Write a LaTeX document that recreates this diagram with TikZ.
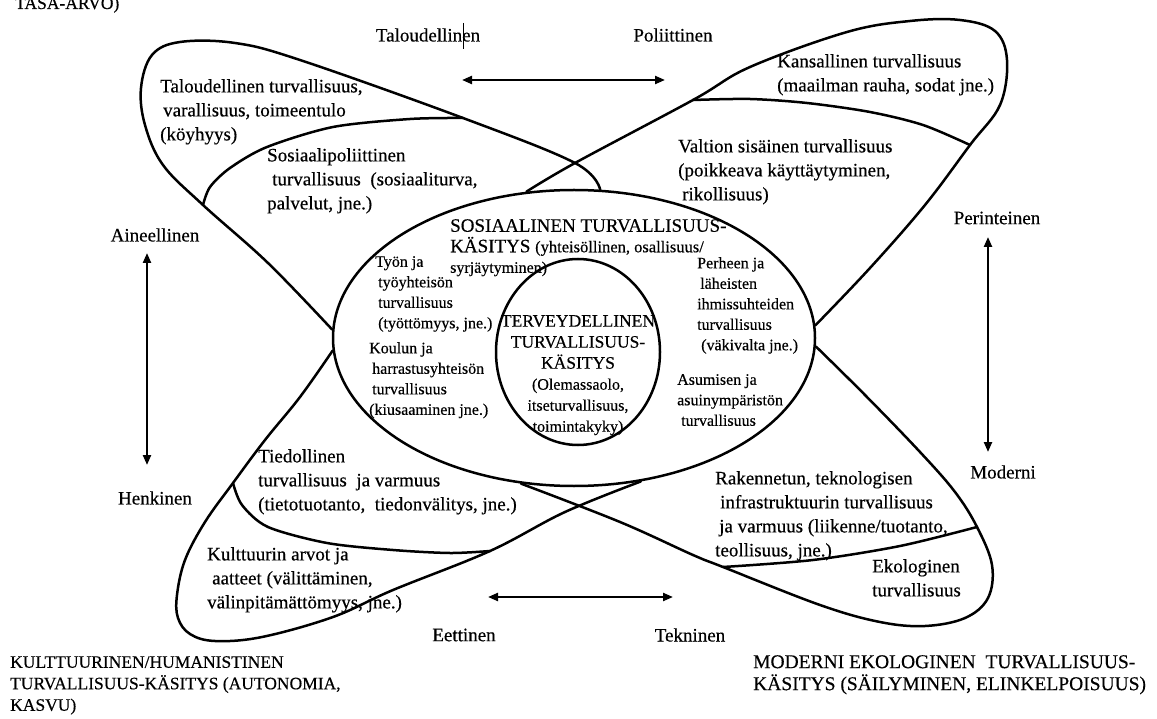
\documentclass[tikz,border=0pt]{standalone}
\usepackage{fontspec}
\setmainfont{Liberation Serif}[FakeBold=0.4]
\usetikzlibrary{arrows.meta,shapes.geometric}
\begin{document}
\begin{tikzpicture}[x=1pt,y=-1pt,
  curve/.style={line width=2.5pt,line join=round,line cap=round},
  outer/.style={font=\fontsize{19}{24}\selectfont,inner sep=0pt,anchor=north west,align=left},
  inner/.style={font=\fontsize{16}{20.5}\selectfont,inner sep=0pt,anchor=north west,align=left},
  botlab/.style={font=\fontsize{17.5}{21.5}\selectfont,inner sep=0pt,anchor=north west,align=left},
  axis/.style={line width=2.2pt,{Triangle[length=10pt,width=8pt]}-{Triangle[length=10pt,width=8pt]}},
  axlab/.style={font=\fontsize{19}{24}\selectfont,inner sep=0pt}
]
\useasboundingbox (0,0) rectangle (1157,719);
\fill[white] (0,0) rectangle (1157,719);

% central shapes
\node[draw,ellipse,line width=2.5pt,minimum width=482pt,minimum height=296pt,inner sep=0pt] (soc) at (574,338) {};
\node[draw,ellipse,line width=2.5pt,minimum width=164pt,minimum height=186pt,inner sep=0pt] (health) at (578,352) {};

% top-left petal
\coordinate (tlA) at (203,205);
\coordinate (tlB) at (463,118);
\draw[curve] plot[smooth,tension=0.6] coordinates {(soc.178) (268,263) (tlA) (163,165) (145,125) (141,88) (152,55) (180,42) (235,43) (300,60) (tlB) (575,163) (soc.80)};
\draw[curve] plot[smooth] coordinates {(tlA) (210,187) (230,168) (267,147) (333,127) (410,119) (tlB)};

% top-right petal
\coordinate (trA) at (693,100);
\coordinate (trB) at (970,145);
\draw[curve] plot[smooth,tension=0.6] coordinates {(soc.108) (575,163) (trA) (750,67) (847,32) (910,21) (960,20) (995,31) (1007,60) (1000,105) (trB) (925,205) (870,268) (soc.3)};
\draw[curve] plot[smooth] coordinates {(trA) (750,99) (807,103) (870,112) (923,125) (trB)};

% bottom-right petal
\coordinate (brA) at (723,567);
\coordinate (brB) at (977,527);
\draw[curve] plot[smooth,tension=0.6] coordinates {(soc.-2) (865,395) (920,452) (955,492) (brB) (992,565) (988,598) (965,618) (925,626) (880,622) (820,605) (brA) (693,555) (620,522) (soc.-110)};
\draw[curve] plot[smooth] coordinates {(brA) (813,560) (900,546) (brB)};

% bottom-left petal
\coordinate (blA) at (233,483);
\coordinate (blB) at (490,551);
\draw[curve] plot[smooth,tension=0.6] coordinates {(soc.183) (300,397) (265,440) (blA) (205,522) (185,560) (177,595) (178,618) (190,634) (215,641) (262,637) (333,617) (393,590) (blB) (565,512) (soc.-65)};
\draw[curve] plot[smooth] coordinates {(blA) (242,505) (268,527) (327,543) (393,550) (450,553) (blB)};

% axes
\coordinate (tx1) at (462,80); \coordinate (tx2) at (665,80);
\coordinate (bx1) at (488,597); \coordinate (bx2) at (673,597);
\coordinate (ly1) at (147,253); \coordinate (ly2) at (147,465);
\coordinate (ry1) at (988,237); \coordinate (ry2) at (988,452);
\draw[axis] (tx1) -- (tx2);
\draw[axis] (bx1) -- (bx2);
\draw[axis] (ly1) -- (ly2);
\draw[axis] (ry1) -- (ry2);

\node[axlab] (tal) at (428,35) {Taloudellinen};
\node[axlab] (pol) at (673,35) {Poliittinen};
\node[axlab] (ain) at (155,235) {Aineellinen};
\node[axlab] (hen) at (155,498) {Henkinen};
\node[axlab] (per) at (997,218) {Perinteinen};
\node[axlab] (mod) at (1003,472) {Moderni};
\node[axlab] (eet) at (464,635) {Eettinen};
\node[axlab] (tek) at (690,635) {Tekninen};
\coordinate (cur1) at (463,23); \coordinate (cur2) at (463,49);
\draw[line width=1pt] (cur1) -- (cur2);

% petal texts
\node[outer] (t1) at (160,79) {Taloudellinen turvallisuus,\\\hspace{3pt}varallisuus, toimeentulo\\(köyhyys)};
\node[outer] (t2) at (267,148) {Sosiaalipoliittinen\\\hspace{5pt}turvallisuus\ \ (sosiaaliturva,\\palvelut, jne.)};
\node[outer] (t3) at (777,54) {Kansallinen turvallisuus\\(maailman rauha, sodat jne.)};
\node[outer] (t4) at (678,139) {Valtion sisäinen turvallisuus\\(poikkeava käyttäytyminen,\\\hspace{4pt}rikollisuus)};
\node[outer] (t5) at (258,449) {Tiedollinen\\turvallisuus\ \ ja varmuus\\(tietotuotanto,\ \ tiedonvälitys, jne.)};
\node[outer] (t6) at (207,547) {Kulttuurin arvot ja\\\hspace{5pt}aatteet (välittäminen,\\välinpitämättömyys, jne.)};
\node[outer] (t7) at (715,471) {Rakennetun, teknologisen\\\hspace{5pt}infrastruktuurin turvallisuus\\\hspace{4pt}ja varmuus (liikenne/tuotanto,\\teollisuus, jne.)};
\node[outer] (t8) at (872,559) {Ekologinen\\turvallisuus};

% central texts
\node[inner,font=\fontsize{19}{20.5}\selectfont] (soct) at (450,219) {SOSIAALINEN TURVALLISUUS-\\KÄSITYS {\fontsize{16.5}{20.5}\selectfont(yhteisöllinen, osallisuus/}\\{\fontsize{16}{20.5}\selectfont syrjäytyminen)}};
\node[inner] (c1) at (375,256) {Työn ja\\\hspace{3pt}työyhteisön\\\hspace{3pt}turvallisuus\\\hspace{3pt}(työttömyys, jne.)};
\node[inner] (c2) at (369,342) {Koulun ja\\\hspace{3pt}harrastusyhteisön\\\hspace{3pt}turvallisuus\\(kiusaaminen jne.)};
\node[inner] (c3) at (697,257) {Perheen ja\\\hspace{3pt}läheisten\\ihmissuhteiden\\turvallisuus\\\hspace{4pt}(väkivalta jne.)};
\node[inner] (c4) at (677,374) {Asumisen ja\\asuinympäristön\\\hspace{4pt}turvallisuus};
\node[inner,anchor=north,align=center,font=\fontsize{17.5}{21}\selectfont] (ht) at (578,315) {TERVEYDELLINEN\\TURVALLISUUS-\\KÄSITYS\\{\fontsize{16}{21}\selectfont(Olemassaolo,}\\{\fontsize{16}{21}\selectfont itseturvallisuus,}\\{\fontsize{16}{21}\selectfont toimintakyky)}};

% corner labels
\node[botlab,anchor=base west] (topcut) at (15,9) {TASA-ARVO)};
\node[botlab] (bl) at (10,656) {KULTTUURINEN/HUMANISTINEN\\TURVALLISUUS-KÄSITYS (AUTONOMIA,\\KASVU)};
\node[botlab,font=\fontsize{19.5}{22}\selectfont] (br) at (753,655) {MODERNI EKOLOGINEN\ \ TURVALLISUUS-\\KÄSITYS (SÄILYMINEN, ELINKELPOISUUS)};
\end{tikzpicture}
\end{document}
